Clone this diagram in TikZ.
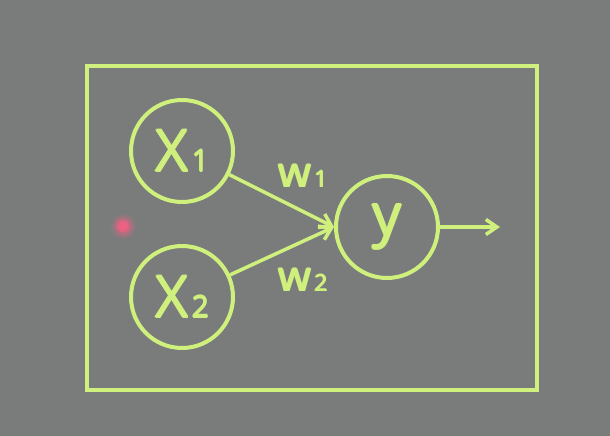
\documentclass[tikz,border=0pt]{standalone}
\usepackage{fontspec}
\setmainfont{Open Sans}
\usetikzlibrary{arrows.meta}
\definecolor{bgray}{RGB}{122,124,124}
\definecolor{lgreen}{RGB}{208,240,125}
\definecolor{laser}{RGB}{245,95,130}
\newcommand{\emb}[1]{\rlap{\kern0.8pt#1}\rlap{\kern0.4pt\raisebox{0.4pt}{#1}}\rlap{\kern0.4pt\raisebox{-0.4pt}{#1}}#1\kern0.8pt}
\tikzset{
  neuron/.style={circle,draw=lgreen,line width=0.08cm,inner sep=0pt,minimum size=2.04cm,text=lgreen},
  conn/.style={draw=lgreen,line width=0.07cm,-{Straight Barb[length=0.22cm,width=0.3cm,line width=0.07cm]}},
  wlabel/.style={text=lgreen,inner sep=0pt}
}
\newcommand{\bigX}[1]{{\fontsize{33}{33}\selectfont\emb{X}\kern1pt\fontsize{17}{17}\selectfont\emb{#1}}}
\newcommand{\smallW}[1]{{\fontsize{24}{24}\selectfont\emb{w}\kern1pt\fontsize{13}{13}\selectfont\emb{#1}}}
\begin{document}
\begin{tikzpicture}[x=0.02cm,y=-0.02cm]
\fill[bgray] (0,0) rectangle (610,436);
\useasboundingbox (0,0) rectangle (610,436);
\draw[lgreen,line width=0.08cm] (87,66) rectangle (537,390);
\shade[inner color=laser,outer color=bgray] (123,226) circle (13);
\fill[laser,opacity=0.6] (123,226) circle (6);
\node[neuron] (x1) at (182,151) {\bigX{1}};
\node[neuron] (x2) at (182,297) {\bigX{2}};
\node[neuron] (y) at (387,227) {\fontsize{33}{33}\selectfont\emb{y}};
\coordinate (out) at (500,227);
\draw[conn] (x1) -- (y.west);
\draw[conn] (x2) -- (y.west);
\draw[conn] (y.east) -- (out);
\node[wlabel] (w1) at (303,176) {\smallW{1}};
\node[wlabel] (w2) at (303,280) {\smallW{2}};
\end{tikzpicture}
\end{document}
